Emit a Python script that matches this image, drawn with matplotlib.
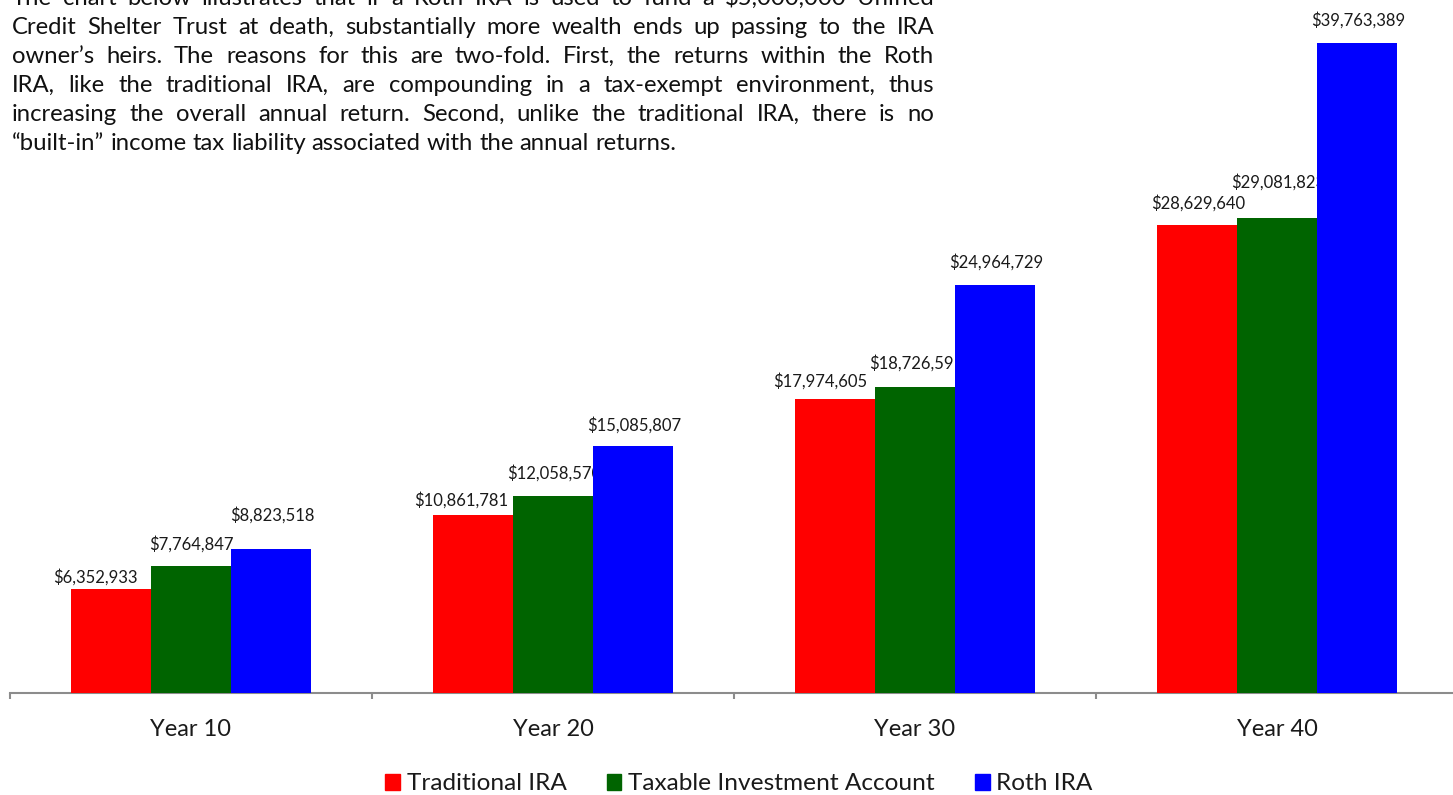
import numpy as np
import matplotlib
matplotlib.use("Agg")
import matplotlib.pyplot as plt
import matplotlib.patches as mpatches

plt.rcParams['font.family'] = ['Lato', 'DejaVu Sans']

# data
years = ['Year 10', 'Year 20', 'Year 30', 'Year 40']
traditional = [6352933, 10861781, 17974605, 28629640]
taxable = [7764847, 12058570, 18726591, 29081823]
roth = [8823518, 15085807, 24964729, 39763389]
series_names = ['Traditional IRA', 'Taxable Investment Account', 'Roth IRA']
colors = ['#ff0000', '#006400', '#0000ff']

body = [
    "The chart below illustrates that if a Roth IRA is used to fund a $5,000,000 Unified",
    "Credit Shelter Trust at death, substantially more wealth ends up passing to the IRA",
    "owner\u2019s heirs. The reasons for this are two-fold. First, the returns within the Roth",
    "IRA, like the traditional IRA, are compounding in a tax-exempt environment, thus",
    "increasing the overall annual return. Second, unlike the traditional IRA, there is no",
    "\u201cbuilt-in\u201d income tax liability associated with the annual returns.",
]

# label nudges in pixels (layout only)
label_dy = [[7, 10, 12, 16], [16, 17, 18, 30], [28, 16, 17, 17]]
label_dx = [[-16, -12, -15, 1], [0, 1, 1, 1], [1, 1, 1, 1]]

W, H = 1453, 795
fig = plt.figure(figsize=(W / 100, H / 100), dpi=100)

# axes in pixel terms: baseline at y=693, each category 362 px wide
ax = fig.add_axes([10 / W, (H - 693) / H, 4 * 362 / W, 693 / H])
ax.set_xlim(-0.5, 3.5)
ax.set_ylim(0, 693 / 16.35e-6)

x = np.arange(len(years))
w = 0.221
for k, (vals, name, c) in enumerate(zip([traditional, taxable, roth], series_names, colors)):
    pos = x + (k - 1) * w
    ax.bar(pos, vals, width=w, color=c, edgecolor='none', zorder=3, label=name)
    for i, (p, v) in enumerate(zip(pos, vals)):
        ax.annotate(f"${v:,.0f}", xy=(p, v),
                    xytext=(label_dx[k][i] * 0.72, label_dy[k][i] * 0.72),
                    textcoords='offset points', ha='center', va='baseline',
                    fontsize=12, color='#1a1a1a', zorder=2)

for s in ['left', 'right', 'top']:
    ax.spines[s].set_visible(False)
ax.spines['bottom'].set_color('#8c8c8c')
ax.spines['bottom'].set_linewidth(1.5)
ax.set_yticks([])
ax.set_xticks(x)
ax.set_xticklabels(years, fontsize=17, color='#1a1a1a')
ax.tick_params(axis='x', which='major', length=0, pad=18.5)
ax.set_xticks(np.arange(-0.5, 4, 1), minor=True)
ax.tick_params(axis='x', which='minor', length=4.5, width=1.5, color='#8c8c8c')

handles = [mpatches.Patch(color=c, label=n) for c, n in zip(colors, series_names)]
fig.legend(handles=handles, loc='center', bbox_to_anchor=(739 / W, 1 - 784 / H),
           ncol=3, frameon=False, fontsize=17.6, handlelength=0.6, handleheight=0.6,
           handletextpad=0.27, columnspacing=1.65, borderpad=0, labelcolor='#1a1a1a')

# justified paragraph at the top
renderer = fig.canvas.get_renderer()
x0, x1 = 12, 934
baselines = [5, 34, 63, 92, 121, 150]
size = 17.2
probe_a = fig.text(0, 0, "x x", fontsize=size)
probe_b = fig.text(0, 0, "xx", fontsize=size)
space = probe_a.get_window_extent(renderer).width - probe_b.get_window_extent(renderer).width
probe_a.remove()
probe_b.remove()
for li, (line, yb) in enumerate(zip(body, baselines)):
    words = line.split()
    texts = [fig.text(0, 1 - yb / H, wd, fontsize=size, ha='left', va='baseline',
                      color='#111111') for wd in words]
    widths = [t.get_window_extent(renderer).width for t in texts]
    if li == len(body) - 1:
        gap = space
    else:
        gap = (x1 - x0 - sum(widths)) / (len(words) - 1)
    xp = x0
    for t, wd in zip(texts, widths):
        t.set_x(xp / W)
        xp += wd + gap

fig.savefig("out.png", dpi=100)
